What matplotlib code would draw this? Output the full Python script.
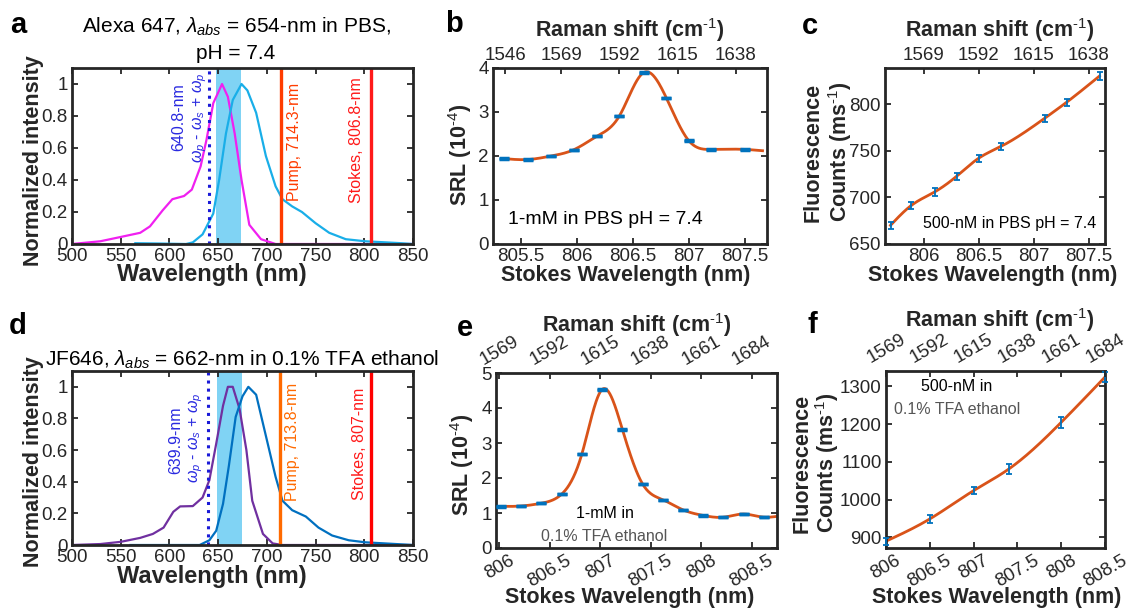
import numpy as np
import matplotlib.pyplot as plt

plt.rcParams['font.family'] = ['Liberation Sans', 'DejaVu Sans']
plt.rcParams['mathtext.fontset'] = 'custom'
plt.rcParams['mathtext.rm'] = 'Liberation Sans'
plt.rcParams['mathtext.it'] = 'Liberation Sans:italic'
plt.rcParams['mathtext.bf'] = 'Liberation Sans:bold'

# ---- data ----
# panel a, Alexa 647 spectra
a_abs_x = [500, 529, 550, 570, 580, 593, 603, 615, 623, 632, 638, 645, 654, 660, 667, 674, 682, 694, 709, 850]
a_abs_y = [0, 0.017, 0.044, 0.07, 0.11, 0.21, 0.28, 0.30, 0.34, 0.485, 0.65, 0.88, 1.0, 0.92, 0.69, 0.40, 0.12, 0.03, 0.0, 0.0]
a_em_x = [565, 590, 617, 624, 634, 645, 651, 658, 665, 674, 680, 689, 699, 709, 716, 726, 736, 750, 764, 781, 801, 835, 850]
a_em_y = [0.005, 0.003, 0.0, 0.01, 0.06, 0.19, 0.40, 0.69, 0.90, 1.0, 0.96, 0.82, 0.55, 0.36, 0.28, 0.235, 0.20, 0.13, 0.07, 0.03, 0.017, 0.006, 0.0]
a_band = (648, 673)
a_lines = [640.8, 714.3, 806.8]

# panel d, JF646 spectra
d_abs_x = [500, 529, 550, 570, 583, 594, 604, 611, 624, 634, 641, 648, 655, 660, 665, 672, 679, 685, 696, 706, 716, 850]
d_abs_y = [0, 0.006, 0.02, 0.045, 0.07, 0.11, 0.21, 0.244, 0.246, 0.30, 0.41, 0.64, 0.88, 1.0, 1.0, 0.86, 0.6, 0.28, 0.07, 0.01, 0, 0]
d_em_x = [560, 600, 631, 641, 648, 655, 661, 668, 675, 681, 689, 699, 709, 716, 726, 740, 753, 767, 784, 801, 850]
d_em_y = [0.0, 0.0, 0.0, 0.03, 0.09, 0.26, 0.5, 0.81, 0.94, 1.0, 0.95, 0.69, 0.43, 0.28, 0.22, 0.18, 0.11, 0.06, 0.03, 0.017, 0.0]
d_band = (648.5, 674)
d_lines = [639.9, 713.8, 807.0]

# panel b, SRL Alexa 647
b_x = [805.35, 805.56, 805.77, 805.97, 806.18, 806.38, 806.6, 806.8, 807.0, 807.2, 807.5, 807.66]
b_y = [1.94, 1.92, 2.0, 2.14, 2.45, 2.91, 3.9, 3.32, 2.35, 2.15, 2.15, 2.12]
b_top_pos = [805.36, 805.86, 806.38, 806.9, 807.42]
b_top_lab = ['1546', '1569', '1592', '1615', '1638']

# panel c, fluorescence Alexa 647
c_x = [805.70, 805.89, 806.10, 806.30, 806.50, 806.70, 807.10, 807.30, 807.60]
c_y = [670, 691.4, 705.7, 722.5, 741.8, 754.3, 784.6, 801.8, 830]
c_err = [4, 4, 4, 4, 4, 4, 4, 4, 4]
c_top_lab = ['1569', '1592', '1615', '1638']

# panel e, SRL JF646
e_x = [806.02, 806.22, 806.42, 806.62, 806.82, 807.02, 807.22, 807.42, 807.62, 807.82, 808.02, 808.22, 808.42, 808.62, 808.74]
e_y = [1.19, 1.2, 1.28, 1.54, 2.69, 4.53, 3.39, 1.83, 1.38, 1.09, 0.93, 0.88, 0.97, 0.88, 0.9]
e_top_lab = ['1569', '1592', '1615', '1638', '1661', '1684']

# panel f, fluorescence JF646
f_x = [806.0, 806.5, 807.0, 807.4, 808.0, 808.5]
f_y = [890, 949, 1024, 1081, 1205, 1325]
f_err = [9, 10, 10, 13, 14, 14]
f_top_lab = ['1569', '1592', '1615', '1638', '1661', '1684']

W, H = 1139, 610
fig = plt.figure(figsize=(W / 100, H / 100), dpi=100)
TC = '#262626'
BLUE = '#0072BD'
ORANGE = '#D95319'
RAMAN = 'Raman shift (cm$^{\\text{-1}}$)'
SRL = 'SRL (10$^{\\text{-4}}$)'
COUNTS = 'Counts (ms$^{\\text{-1}}$)'


def make_ax(l, t, r, b):
    return fig.add_axes([l / W, 1 - b / H, (r - l) / W, (b - t) / H])


def ftext(x, y, s, **kw):
    kw.setdefault('ha', 'center')
    kw.setdefault('va', 'center')
    kw.setdefault('color', TC)
    fig.text(x / W, 1 - y / H, s, **kw)


def style(ax, top=True):
    for s in ax.spines.values():
        s.set_linewidth(2)
        s.set_color(TC)
    ax.tick_params(direction='in', length=4, width=1.3, top=top, right=True,
                   labelsize=13.5, colors=TC, pad=3)


def spline(x, y, num=400):
    # natural cubic spline for the smooth fit line
    x = np.asarray(x, float)
    y = np.asarray(y, float)
    n = len(x)
    h = np.diff(x)
    A = np.zeros((n, n))
    rhs = np.zeros(n)
    A[0, 0] = A[-1, -1] = 1
    for i in range(1, n - 1):
        A[i, i - 1] = h[i - 1]
        A[i, i] = 2 * (h[i - 1] + h[i])
        A[i, i + 1] = h[i]
        rhs[i] = 6 * ((y[i + 1] - y[i]) / h[i] - (y[i] - y[i - 1]) / h[i - 1])
    M = np.linalg.solve(A, rhs)
    xs = np.linspace(x[0], x[-1], num)
    k = np.clip(np.searchsorted(x, xs) - 1, 0, n - 2)
    d1 = x[k + 1] - xs
    d0 = xs - x[k]
    hk = h[k]
    ys = (M[k] * d1 ** 3 + M[k + 1] * d0 ** 3) / (6 * hk) \
        + (y[k] / hk - M[k] * hk / 6) * d1 + (y[k + 1] / hk - M[k + 1] * hk / 6) * d0
    return xs, ys


def top_axis(ax, pos, labels, rot=0):
    ax2 = ax.twiny()
    ax2.set_xlim(ax.get_xlim())
    ax2.set_xticks(pos)
    ax2.set_xticklabels(labels, rotation=rot, ha='center')
    for s in ax2.spines.values():
        s.set_visible(False)
    ax2.tick_params(direction='in', length=4, width=1.3, labelsize=13.5, colors=TC, pad=3)
    return ax2


def spectra(ax, ax_x, ax_y, em_x, em_y, band, lines, cols, txt):
    ax.plot(ax_x, ax_y, color=cols[0], lw=1.6)
    ax.plot(em_x, em_y, color=cols[1], lw=1.6)
    ax.axvspan(band[0], band[1], color='#2bb7ed', alpha=0.6, lw=0)
    ax.axvline(lines[0], color='#1a1ad8', ls=':', lw=2.2)
    ax.axvline(lines[1], color=cols[2], lw=2.4)
    ax.axvline(lines[2], color=cols[3], lw=2.4)
    ax.set_xlim(500, 850)
    ax.set_ylim(0, 1.1)
    ax.set_xticks([500, 550, 600, 650, 700, 750, 800, 850])
    ax.set_yticks([0, 0.2, 0.4, 0.6, 0.8, 1])
    ax.set_yticklabels(['0', '0.2', '0.4', '0.6', '0.8', '1'])
    for (x, y, s, c) in txt:
        ax.text(x, y, s, rotation=90, ha='center', va='center', color=c, fontsize=11.5)
    style(ax)


# ---- panel a ----
ax = make_ax(72, 68, 413, 244)
spectra(ax, a_abs_x, a_abs_y, a_em_x, a_em_y, a_band, a_lines,
        ['#f020f0', '#19aee8', '#ff3c00', '#ff1a1a'],
        [(610, 0.79, '640.8-nm', '#2a2ae0'),
         (631, 0.79, r'$\omega_p$ - $\omega_s$ + $\omega_p$', '#2a2ae0'),
         (728, 0.64, 'Pump, 714.3-nm', '#ff3c00'),
         (792, 0.65, 'Stokes, 806.8-nm', '#ff1a1a')])
ftext(236, 39, 'Alexa 647, $\\lambda_{abs}$ = 654-nm in PBS,\npH = 7.4', fontsize=15, color='black', linespacing=1.4)
ftext(212, 274, 'Wavelength (nm)', fontsize=17, fontweight='bold')
ftext(34, 161, 'Normalized intensity', fontsize=15.5, fontweight='bold', rotation=90)
ftext(18, 25, 'a', fontsize=21, fontweight='bold', color='black')

# ---- panel d ----
ax = make_ax(72, 371, 413, 545)
spectra(ax, d_abs_x, d_abs_y, d_em_x, d_em_y, d_band, d_lines,
        ['#7030a0', '#0070c0', '#ff6a00', '#ff0000'],
        [(607, 0.66, '639.9-nm', '#2a2ae0'),
         (627, 0.675, r'$\omega_p$ - $\omega_s$ + $\omega_p$', '#2a2ae0'),
         (726, 0.65, 'Pump, 713.8-nm', '#ff6a00'),
         (795, 0.64, 'Stokes, 807-nm', '#ff1a1a')])
ftext(242, 360, 'JF646, $\\lambda_{abs}$ = 662-nm in 0.1% TFA ethanol', fontsize=15, color='black')
ftext(212, 577, 'Wavelength (nm)', fontsize=17, fontweight='bold')
ftext(34, 462, 'Normalized intensity', fontsize=15.5, fontweight='bold', rotation=90)
ftext(18, 326, 'd', fontsize=21, fontweight='bold', color='black')

# ---- panel b ----
ax = make_ax(493, 68, 767, 244)
xs, ys = spline(b_x, b_y)
ax.plot(xs, ys, color=ORANGE, lw=2)
ax.errorbar(b_x[:-1], b_y[:-1], yerr=0.005, fmt='none', ecolor=BLUE, capsize=3.5, capthick=2.5, elinewidth=1, zorder=3)
ax.set_xlim(805.25, 807.7)
ax.set_ylim(0, 4)
ax.set_xticks([805.5, 806, 806.5, 807, 807.5])
ax.set_xticklabels(['805.5', '806', '806.5', '807', '807.5'])
ax.set_yticks([0, 1, 2, 3, 4])
ax.text(805.38, 0.56, '1-mM in PBS pH = 7.4', fontsize=14, color='black', va='center')
style(ax, top=False)
top_axis(ax, b_top_pos, b_top_lab)
ftext(630, 30, RAMAN, fontsize=15.5, fontweight='bold')
ftext(626, 276, 'Stokes Wavelength (nm)', fontsize=15.5, fontweight='bold')
ftext(460, 155, SRL, fontsize=15.5, fontweight='bold', rotation=90)
ftext(454, 24, 'b', fontsize=21, fontweight='bold', color='black')

# ---- panel c ----
ax = make_ax(885, 68, 1105, 244)
xs, ys = spline(c_x, c_y)
ax.plot(xs, ys, color=ORANGE, lw=2)
ax.errorbar(c_x, c_y, yerr=c_err, fmt='none', ecolor=BLUE, capsize=2.5, capthick=1.3, elinewidth=1.3, zorder=3)
ax.set_xlim(805.65, 807.65)
ax.set_ylim(650, 838.6)
ax.set_xticks([806, 806.5, 807, 807.5])
ax.set_xticklabels(['806', '806.5', '807', '807.5'])
ax.set_yticks([650, 700, 750, 800])
ax.text(807.57, 672, '500-nM in PBS pH = 7.4', fontsize=11.5, color='black', ha='right', va='center')
style(ax, top=False)
top_axis(ax, [806, 806.5, 807, 807.5], c_top_lab)
ftext(1000, 30, RAMAN, fontsize=15.5, fontweight='bold')
ftext(993, 276, 'Stokes Wavelength (nm)', fontsize=15.5, fontweight='bold')
ftext(813, 152, 'Fluorescence', fontsize=15.5, fontweight='bold', rotation=90)
ftext(840, 152, COUNTS, fontsize=15.5, fontweight='bold', rotation=90)
ftext(810, 26, 'c', fontsize=21, fontweight='bold', color='black')

# ---- panel e ----
ax = make_ax(496, 373, 777, 548)
xs, ys = spline(e_x, e_y)
ax.plot(xs, ys, color=ORANGE, lw=2)
ax.errorbar(e_x[:-1], e_y[:-1], yerr=0.005, fmt='none', ecolor=BLUE, capsize=3.5, capthick=2.5, elinewidth=1, zorder=3)
ax.set_xlim(805.97, 808.75)
ax.set_ylim(0, 5)
ax.set_xticks([806, 806.5, 807, 807.5, 808, 808.5])
ax.set_xticklabels(['806', '806.5', '807', '807.5', '808', '808.5'], rotation=30)
ax.set_yticks([0, 1, 2, 3, 4, 5])
ax.text(807.05, 1.0, '1-mM in', fontsize=11.5, color='black', ha='center', va='center')
ax.text(807.04, 0.33, '0.1% TFA ethanol', fontsize=11.5, color='#555555', ha='center', va='center')
style(ax, top=False)
top_axis(ax, [806, 806.5, 807, 807.5, 808, 808.5], e_top_lab, rot=30)
ftext(637, 325, RAMAN, fontsize=15.5, fontweight='bold')
ftext(630, 598, 'Stokes Wavelength (nm)', fontsize=15.5, fontweight='bold')
ftext(462, 465, SRL, fontsize=15.5, fontweight='bold', rotation=90)
ftext(465, 328, 'e', fontsize=21, fontweight='bold', color='black')

# ---- panel f ----
ax = make_ax(886, 371, 1105, 548)
xs, ys = spline(f_x, f_y)
ax.plot(xs, ys, color=ORANGE, lw=2)
ax.errorbar(f_x, f_y, yerr=f_err, fmt='none', ecolor=BLUE, capsize=2.5, capthick=1.3, elinewidth=1.3, zorder=3, clip_on=False)
ax.set_xlim(806, 808.5)
ax.set_ylim(872, 1341)
ax.set_xticks([806, 806.5, 807, 807.5, 808, 808.5])
ax.set_xticklabels(['806', '806.5', '807', '807.5', '808', '808.5'], rotation=30)
ax.set_yticks([900, 1000, 1100, 1200, 1300])
ax.text(806.81, 1300, '500-nM in', fontsize=11.5, color='black', ha='center', va='center')
ax.text(806.81, 1238, '0.1% TFA ethanol', fontsize=11.5, color='#555555', ha='center', va='center')
style(ax, top=False)
top_axis(ax, [806, 806.5, 807, 807.5, 808, 808.5], f_top_lab, rot=30)
ftext(1000, 320, RAMAN, fontsize=15.5, fontweight='bold')
ftext(997, 598, 'Stokes Wavelength (nm)', fontsize=15.5, fontweight='bold')
ftext(802, 463, 'Fluorescence', fontsize=15.5, fontweight='bold', rotation=90)
ftext(827, 463, COUNTS, fontsize=15.5, fontweight='bold', rotation=90)
ftext(812, 325, 'f', fontsize=21, fontweight='bold', color='black')

fig.savefig('out.png', dpi=100)
